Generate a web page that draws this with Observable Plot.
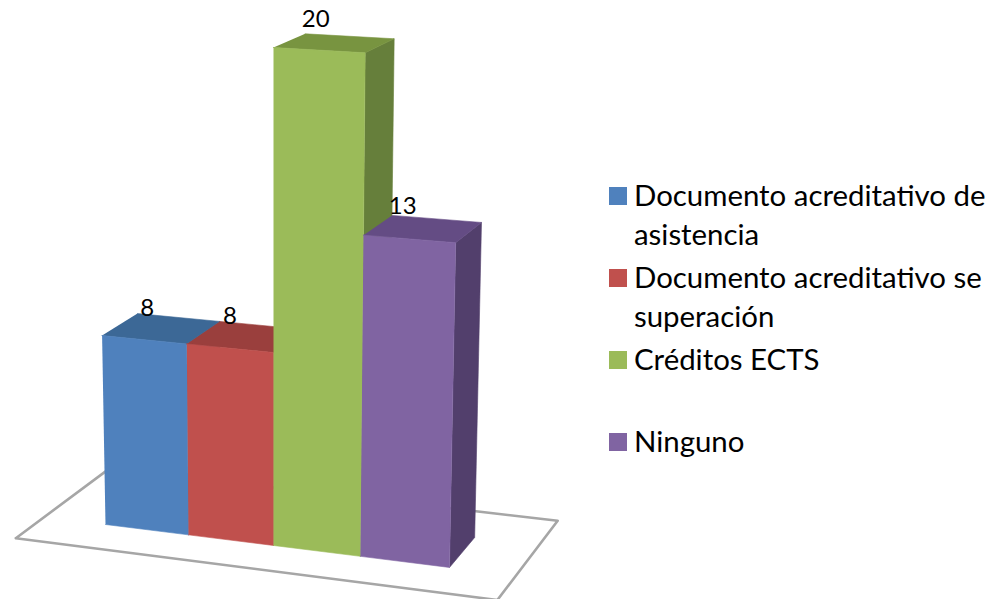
<!DOCTYPE html>
<html><head><meta charset="utf-8">
<script src="https://cdn.jsdelivr.net/npm/d3@7"></script>
<script src="https://cdn.jsdelivr.net/npm/@observablehq/plot@0.6"></script>
<style>
html,body{margin:0;padding:0;background:#fff;width:993px;height:599px;overflow:hidden}
#wrap{position:relative;width:993px;height:599px;font-family:Lato,sans-serif}
#wrap svg{display:block;background:#fff}
#legend{position:absolute;left:609px;top:175px;width:384px;font-size:29.4px;color:#000}
.item{display:flex;height:82px;align-items:flex-start}
.sw{width:18px;height:18px;margin:12px 7px 0 0;flex:none}
.tx{line-height:39px;white-space:pre-line}
</style></head>
<body><div id="wrap"><div id="legend"></div></div>
<script>
const categories = ["Documento acreditativo de\nasistencia", "Documento acreditativo se\nsuperación", "Créditos ECTS", "Ninguno"];
const values = [8, 8, 20, 13];
const frontColors = ["#4f81bd", "#c0504d", "#9bbb59", "#8064a2"];
const topColors = ["#3c6896", "#9a3f3d", "#789440", "#644c84"];
const sideColors = ["#375a82", "#843735", "#667f3b", "#523f6c"];

// Perspective camera of the 3-D chart: bar position X, value V, depth D.
const cam = {ox:105, oy:524, xx:80.9, xy:4.3, vx:-0.68, vy:-24.45, dx:39, dy:-11.65, p:0.01136, q:0.00249, r:-0.0316};
const w = (X,V,D) => 1 - cam.p*X - cam.q*V - cam.r*D;
const px = (X,V,D) => (cam.ox + cam.xx*X + cam.vx*V + cam.dx*D) / w(X,V,D);
const py = (X,V,D) => (cam.oy + cam.xy*X + cam.vy*V + cam.dy*D) / w(X,V,D);

const faces = [];
values.forEach((v,i) => {
  const add = (name, fill, pts) => pts.forEach(([X,V,D]) => faces.push({face:`${i}-${name}`, fill, X, V, D}));
  add("side", sideColors[i], [[i+1,0,0],[i+1,0,1],[i+1,v,1],[i+1,v,0]]);
  add("top", topColors[i], [[i,v,0],[i+1,v,0],[i+1,v,1],[i,v,1]]);
  add("front", frontColors[i], [[i,0,0],[i+1,0,0],[i+1,v,0],[i,v,0]]);
});
const floorCorners = [[-0.75,-0.75],[4.73,-0.75],[4.73,1.85],[-0.75,1.85],[-0.75,-0.75]];
const labels = values.map((v,i) => ({i, v}));
const chart = Plot.plot({
  width:993, height:599, margin:0,
  x:{domain:[0,993], range:[0,993], axis:null},
  y:{domain:[0,599], range:[0,599], axis:null},
  marks:[
    Plot.line(floorCorners, {x:d=>px(d[0],0,d[1]), y:d=>py(d[0],0,d[1]), stroke:"#a6a6a6", strokeWidth:2.6, fill:"#fff", curve:"linear"}),
    Plot.line(faces, {x:d=>px(d.X,d.V,d.D), y:d=>py(d.X,d.V,d.D), z:"face", fill:"fill", stroke:"fill", strokeWidth:0.6, curve:"linear"}),
    Plot.text(labels, {x:d=>px(d.i+0.12,d.v*1.027,1), y:d=>py(d.i+0.12,d.v*1.027,1), dy:-1, text:d=>String(d.v), fontSize:24, fontFamily:"Lato, sans-serif", fill:"#000"})
  ]
});
const wrap = document.getElementById("wrap");
wrap.insertBefore(chart, wrap.firstChild);
const legend = document.getElementById("legend");
categories.forEach((c,i) => {
  const it = document.createElement("div"); it.className="item";
  const s = document.createElement("div"); s.className="sw"; s.style.background=frontColors[i];
  const t = document.createElement("div"); t.className="tx"; t.textContent=c;
  it.append(s,t); legend.append(it);
});
</script></body></html>
